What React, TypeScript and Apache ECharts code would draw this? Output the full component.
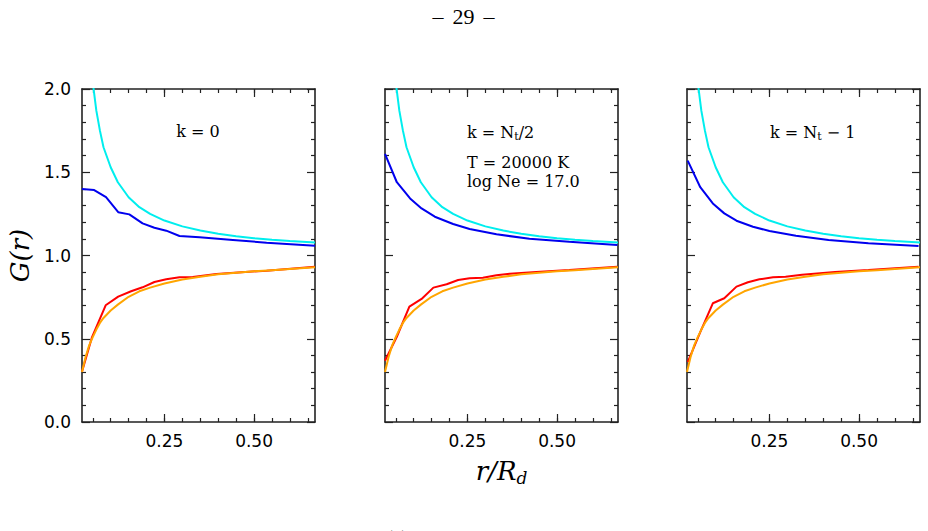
import React, { useEffect, useRef } from "react";
import * as echarts from "echarts";

// Shared reference curves (same in every panel)
const refR = [0.02, 0.03, 0.04, 0.05, 0.06, 0.07, 0.08, 0.10, 0.12, 0.15, 0.18, 0.21, 0.25, 0.30, 0.35, 0.40, 0.45, 0.50, 0.55, 0.60, 0.67];
const refUpperG = [3.60, 2.73, 2.30, 2.04, 1.87, 1.75, 1.65, 1.53, 1.44, 1.35, 1.29, 1.25, 1.21, 1.175, 1.15, 1.13, 1.115, 1.104, 1.095, 1.087, 1.078];
const refLowerG = [0.30, 0.39, 0.46, 0.51, 0.555, 0.595, 0.625, 0.67, 0.705, 0.752, 0.785, 0.807, 0.832, 0.856, 0.872, 0.887, 0.897, 0.905, 0.912, 0.919, 0.929];

// k = 0
const k0BlueR = [0.02, 0.054, 0.087, 0.121, 0.152, 0.189, 0.222, 0.255, 0.292, 0.348, 0.441, 0.535, 0.67];
const k0BlueG = [1.399, 1.393, 1.35, 1.26, 1.247, 1.193, 1.167, 1.149, 1.117, 1.109, 1.093, 1.077, 1.059];
const k0RedR = [0.02, 0.048, 0.086, 0.121, 0.157, 0.189, 0.222, 0.255, 0.292, 0.329, 0.395, 0.535, 0.67];
const k0RedG = [0.302, 0.51, 0.701, 0.753, 0.785, 0.809, 0.841, 0.857, 0.869, 0.871, 0.889, 0.909, 0.933];

// k = Nt/2
const kHalfBlueR = [0.02, 0.053, 0.09, 0.122, 0.159, 0.21, 0.256, 0.331, 0.423, 0.534, 0.668];
const kHalfBlueG = [1.61, 1.44, 1.343, 1.283, 1.233, 1.189, 1.159, 1.127, 1.101, 1.083, 1.063];
const kHalfRedR = [0.02, 0.053, 0.088, 0.122, 0.155, 0.192, 0.224, 0.256, 0.293, 0.331, 0.368, 0.442, 0.534, 0.668];
const kHalfRedG = [0.368, 0.512, 0.693, 0.739, 0.807, 0.827, 0.853, 0.863, 0.867, 0.881, 0.891, 0.901, 0.913, 0.933];

// k = Nt - 1
const kLastBlueR = [0.022, 0.057, 0.092, 0.124, 0.158, 0.204, 0.25, 0.324, 0.415, 0.526, 0.666];
const kLastBlueG = [1.57, 1.41, 1.313, 1.253, 1.209, 1.173, 1.147, 1.119, 1.093, 1.073, 1.057];
const kLastRedR = [0.022, 0.057, 0.092, 0.124, 0.158, 0.19, 0.222, 0.26, 0.295, 0.341, 0.433, 0.526, 0.666];
const kLastRedG = [0.36, 0.54, 0.713, 0.743, 0.813, 0.839, 0.857, 0.869, 0.873, 0.885, 0.901, 0.913, 0.933];

const xMinorTicks = [0.05, 0.10, 0.15, 0.20, 0.25, 0.30, 0.35, 0.40, 0.45, 0.50, 0.55, 0.60, 0.65];
const xMajorTicks = [0.25, 0.50];

const panels = [
  { blue: [k0BlueR, k0BlueG], red: [k0RedR, k0RedG] },
  { blue: [kHalfBlueR, kHalfBlueG], red: [kHalfRedR, kHalfRedG] },
  { blue: [kLastBlueR, kLastBlueG], red: [kLastRedR, kLastRedG] },
];

const zip = (xs: number[], ys: number[]) => xs.map((x, i) => [x, ys[i]]);

const FRAME = "#222";
const INK = "#000";
const TICK_FONT = "DejaVu Sans";
const SERIF = "DejaVu Serif";

export default function App() {
  const ref = useRef<HTMLDivElement>(null);

  useEffect(() => {
    document.body.style.margin = "0";
    const chart = echarts.init(ref.current!, null, { renderer: "svg" });

    const lefts = [82, 385, 687];
    const grids = lefts.map((l) => ({ left: l, top: 89, width: 233, height: 333 }));

    const xAxes: any[] = [];
    const yAxes: any[] = [];
    const series: any[] = [];

    panels.forEach((p, i) => {
      const baseX = {
        type: "value",
        gridIndex: i,
        min: 0.02,
        max: 0.67,
        splitLine: { show: false },
      };
      for (const pos of ["bottom", "top"]) {
        xAxes.push({
          ...baseX,
          position: pos,
          axisLine: { show: true, lineStyle: { color: FRAME, width: 1.6 } },
          axisTick: { show: true, inside: true, length: 4, customValues: xMinorTicks, lineStyle: { color: FRAME, width: 1.2 } },
          axisLabel: { show: false },
        });
        xAxes.push({
          ...baseX,
          position: pos,
          axisLine: { show: false },
          axisTick: { show: true, inside: true, length: 8, customValues: xMajorTicks, lineStyle: { color: FRAME, width: 1.2 } },
          axisLabel: {
            show: pos === "bottom",
            customValues: xMajorTicks,
            margin: 10,
            color: INK,
            fontFamily: TICK_FONT,
            fontSize: 17,
            formatter: (v: number) => v.toFixed(2),
          },
          ...(pos === "bottom" && i === 1
            ? {
                name: "{i|r/R}{s|d}",
                nameLocation: "middle",
                nameGap: 34,
                nameTextStyle: {
                  rich: {
                    i: { fontFamily: SERIF, fontStyle: "italic", fontSize: 26, color: INK, lineHeight: 30, verticalAlign: "middle" },
                    s: { fontFamily: SERIF, fontStyle: "italic", fontSize: 17, color: INK, lineHeight: 22, verticalAlign: "bottom" },
                  },
                },
              }
            : {}),
        });
      }
      for (const pos of ["left", "right"]) {
        yAxes.push({
          type: "value",
          gridIndex: i,
          position: pos,
          min: 0,
          max: 2,
          interval: 0.5,
          splitLine: { show: false },
          axisLine: { show: true, lineStyle: { color: FRAME, width: 1.6 } },
          axisTick: { show: true, inside: true, length: 8, lineStyle: { color: FRAME, width: 1.2 } },
          minorTick: { show: true, splitNumber: 5, length: 4, lineStyle: { color: FRAME, width: 1.2 } },
          axisLabel: {
            show: pos === "left" && i === 0,
            margin: 11,
            color: INK,
            fontFamily: TICK_FONT,
            fontSize: 17,
            formatter: (v: number) => v.toFixed(1),
          },
          ...(pos === "left" && i === 0
            ? {
                name: "G(r)",
                nameLocation: "middle",
                nameRotate: 90,
                nameGap: 49,
                nameTextStyle: { fontFamily: SERIF, fontStyle: "italic", fontSize: 26, color: INK },
              }
            : {}),
        });
      }

      const xi = i * 4;
      const yi = i * 2;
      const line = (data: number[][], color: string) => ({
        type: "line",
        xAxisIndex: xi,
        yAxisIndex: yi,
        data,
        showSymbol: false,
        symbol: "none",
        clip: true,
        lineStyle: { color, width: 2 },
      });
      series.push(line(zip(p.blue[0], p.blue[1]), "#0000ee"));
      series.push(line(zip(refR, refUpperG), "#00eeee"));
      series.push(line(zip(p.red[0], p.red[1]), "#ff0000"));
      series.push(line(zip(refR, refLowerG), "#ffa500"));
    });

    const main = { fontFamily: SERIF, fontSize: 16, fill: INK, verticalAlign: "middle", lineHeight: 20 };
    const sub = { fontFamily: SERIF, fontSize: 11, fill: INK, verticalAlign: "bottom", lineHeight: 14 };
    const pageNum = { fontFamily: "Liberation Serif", fontSize: 22, fill: INK, align: "center", verticalAlign: "middle" };

    const option = {
      animation: false,
      grid: grids,
      xAxis: xAxes,
      yAxis: yAxes,
      series,
      graphic: [
        { type: "text", x: 438, y: 16, style: { ...pageNum, text: "–" } },
        { type: "text", x: 463.5, y: 16, style: { ...pageNum, text: "29" } },
        { type: "text", x: 489, y: 16, style: { ...pageNum, text: "–" } },
        {
          type: "text",
          x: 397,
          y: 528,
          style: { text: "(a)", fontFamily: "Liberation Serif", fontSize: 20, fill: INK, align: "center", verticalAlign: "top" },
        },
        {
          type: "text",
          x: 198,
          y: 131,
          style: { text: "k = 0", fontFamily: SERIF, fontSize: 16, fill: INK, align: "center", verticalAlign: "middle" },
        },
        {
          type: "text",
          x: 467,
          y: 132,
          style: { text: "{m|k = N}{s|t}{m|/2}", align: "left", verticalAlign: "middle", rich: { m: main, s: sub } },
        },
        {
          type: "text",
          x: 467,
          y: 162,
          style: { text: "T = 20000 K", fontFamily: SERIF, fontSize: 16, fill: INK, align: "left", verticalAlign: "middle" },
        },
        {
          type: "text",
          x: 467,
          y: 181,
          style: { text: "log Ne = 17.0", fontFamily: SERIF, fontSize: 16, fill: INK, align: "left", verticalAlign: "middle" },
        },
        {
          type: "text",
          x: 770,
          y: 132,
          style: { text: "{m|k = N}{s|t}{m| − 1}", align: "left", verticalAlign: "middle", rich: { m: main, s: sub } },
        },
      ],
    };

    chart.setOption(option as any);
    return () => chart.dispose();
  }, []);

  return <div ref={ref} style={{ width: 928, height: 531 }} />;
}
